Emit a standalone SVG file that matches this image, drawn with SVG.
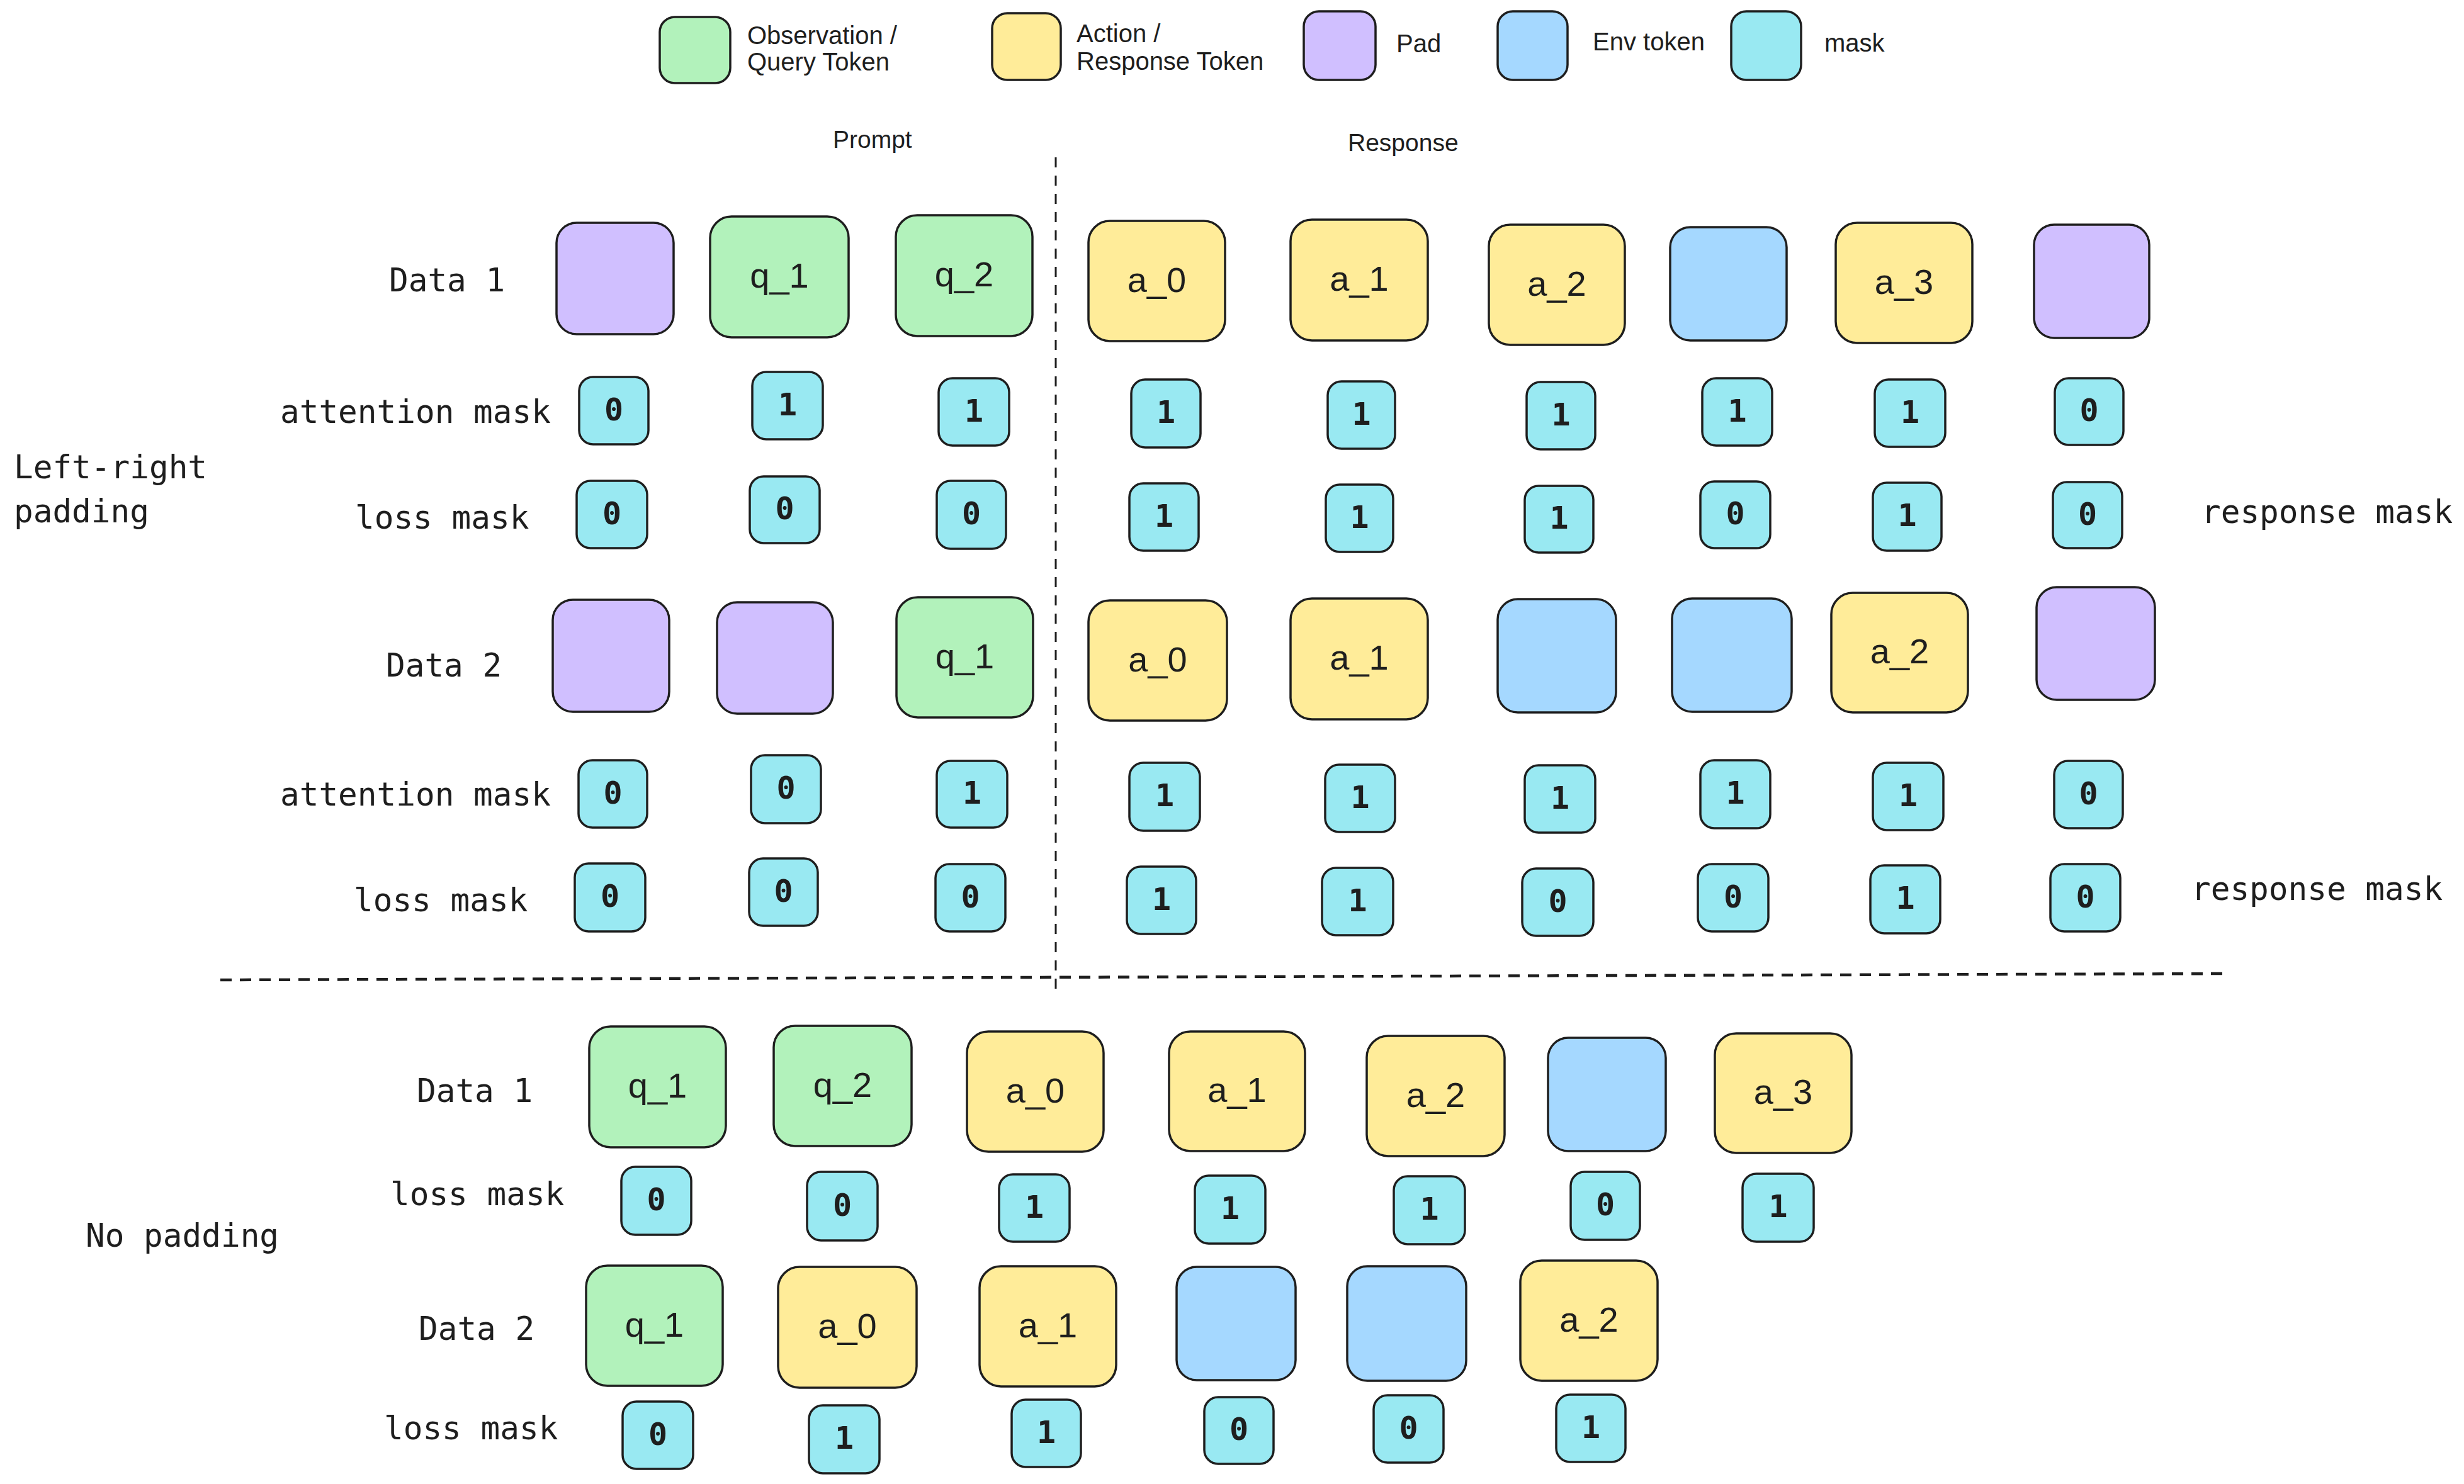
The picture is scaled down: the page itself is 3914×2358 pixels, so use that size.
<svg xmlns="http://www.w3.org/2000/svg" width="3914" height="2358" viewBox="0 0 3914 2358">
<style>
.t{stroke:#1e1e1e;stroke-width:3.5}
.m{stroke:#1e1e1e;stroke-width:3.5}
.g{fill:#b2f2bb}.y{fill:#ffec99}.p{fill:#d0bfff}.b{fill:#a5d8ff}.c{fill:#99e9f2}
.tt{font-family:"Liberation Sans",Arial,sans-serif;font-size:56px;fill:#1e1e1e;text-anchor:middle}
.md{font-family:"DejaVu Sans Mono","Liberation Mono",monospace;font-size:50px;font-weight:bold;fill:#1e1e1e;text-anchor:middle}
.lb{font-family:"DejaVu Sans Mono","Liberation Mono",monospace;font-size:51px;fill:#1e1e1e}
.lg{font-family:"Liberation Sans",Arial,sans-serif;font-size:40px;fill:#1e1e1e}
.hd{font-family:"Liberation Sans",Arial,sans-serif;font-size:39px;fill:#1e1e1e}
.sep{fill:none;stroke:#1e1e1e}
</style>
<rect width="3914" height="2358" fill="#ffffff"/>

<g id="legend">
<g id="legend-obs"><rect class="t g" x="1048" y="27" width="112" height="105" rx="24"/><text class="lg" x="1187" y="70">Observation /</text><text class="lg" x="1187" y="112">Query Token</text></g>
<g id="legend-act"><rect class="t y" x="1576" y="21" width="109" height="106" rx="24"/><text class="lg" x="1710" y="67">Action /</text><text class="lg" x="1710" y="111">Response Token</text></g>
<g id="legend-pad"><rect class="t p" x="2071" y="18" width="114" height="109" rx="24"/><text class="lg" x="2218" y="83">Pad</text></g>
<g id="legend-env"><rect class="t b" x="2379" y="18" width="111" height="109" rx="24"/><text class="lg" x="2530" y="80">Env token</text></g>
<g id="legend-mask"><rect class="t c" x="2750" y="18" width="111" height="109" rx="24"/><text class="lg" x="2898" y="82">mask</text></g>
</g>

<g id="headers">
<text class="hd" x="1323" y="235">Prompt</text>
<text class="hd" x="2141" y="240">Response</text>
</g>

<g id="connectors">
<line class="sep" x1="1677" y1="250" x2="1677" y2="1575" stroke-width="3" stroke-dasharray="16 13"/>
<line class="sep" x1="350" y1="1557" x2="3540" y2="1547" stroke-width="4.5" stroke-dasharray="18 13"/>
</g>

<g id="labels">
<text class="lb" x="618" y="463">Data 1</text>
<text class="lb" x="445" y="672">attention mask</text>
<text class="lb" x="564" y="840">loss mask</text>
<text class="lb" x="22" y="760">Left-right</text>
<text class="lb" x="22" y="830">padding</text>
<text class="lb" x="3497" y="831">response mask</text>
<text class="lb" x="613" y="1075">Data 2</text>
<text class="lb" x="445" y="1280">attention mask</text>
<text class="lb" x="562" y="1448">loss mask</text>
<text class="lb" x="3481" y="1430">response mask</text>
<text class="lb" x="136" y="1981">No padding</text>
<text class="lb" x="662" y="1751">Data 1</text>
<text class="lb" x="620" y="1915">loss mask</text>
<text class="lb" x="665" y="2129">Data 2</text>
<text class="lb" x="610" y="2287">loss mask</text>
</g>

<g id="lr-data1">
<g id="lr1-pad0"><rect class="t p" x="884" y="354" width="186" height="177" rx="32"/></g>
<g id="lr1-q1"><rect class="t g" x="1128" y="344" width="220" height="192" rx="34"/><text class="tt" x="1238" y="457">q_1</text></g>
<g id="lr1-q2"><rect class="t g" x="1423" y="342" width="217" height="192" rx="34"/><text class="tt" x="1531.5" y="455">q_2</text></g>
<g id="lr1-a0"><rect class="t y" x="1729" y="351" width="217" height="191" rx="34"/><text class="tt" x="1837.5" y="463.5">a_0</text></g>
<g id="lr1-a1"><rect class="t y" x="2050" y="349" width="218" height="192" rx="34"/><text class="tt" x="2159" y="462">a_1</text></g>
<g id="lr1-a2"><rect class="t y" x="2365" y="357" width="216" height="191" rx="34"/><text class="tt" x="2473" y="469.5">a_2</text></g>
<g id="lr1-env"><rect class="t b" x="2653" y="361" width="185" height="180" rx="32"/></g>
<g id="lr1-a3"><rect class="t y" x="2916" y="354" width="217" height="191" rx="34"/><text class="tt" x="3024.5" y="466.5">a_3</text></g>
<g id="lr1-pad1"><rect class="t p" x="3231" y="357" width="183" height="180" rx="32"/></g>
</g>

<g id="lr-data1-attn">
<g id="lr1-at0"><rect class="m c" x="920" y="599" width="110" height="107" rx="22"/><text class="md" x="975" y="667.5">0</text></g>
<g id="lr1-at1"><rect class="m c" x="1195" y="591" width="112" height="107" rx="22"/><text class="md" x="1251" y="659.5">1</text></g>
<g id="lr1-at2"><rect class="m c" x="1491" y="601" width="112" height="107" rx="22"/><text class="md" x="1547" y="669.5">1</text></g>
<g id="lr1-at3"><rect class="m c" x="1797" y="603" width="110" height="108" rx="22"/><text class="md" x="1852" y="672">1</text></g>
<g id="lr1-at4"><rect class="m c" x="2109" y="606" width="107" height="107" rx="22"/><text class="md" x="2162.5" y="674.5">1</text></g>
<g id="lr1-at5"><rect class="m c" x="2425" y="607" width="109" height="107" rx="22"/><text class="md" x="2479.5" y="675.5">1</text></g>
<g id="lr1-at6"><rect class="m c" x="2704" y="601" width="111" height="107" rx="22"/><text class="md" x="2759.5" y="669.5">1</text></g>
<g id="lr1-at7"><rect class="m c" x="2978" y="603" width="112" height="107" rx="22"/><text class="md" x="3034" y="671.5">1</text></g>
<g id="lr1-at8"><rect class="m c" x="3264" y="601" width="109" height="106" rx="22"/><text class="md" x="3318.5" y="669">0</text></g>
</g>

<g id="lr-data1-loss">
<g id="lr1-ls0"><rect class="m c" x="916" y="764" width="112" height="107" rx="22"/><text class="md" x="972" y="832.5">0</text></g>
<g id="lr1-ls1"><rect class="m c" x="1191" y="757" width="111" height="106" rx="22"/><text class="md" x="1246.5" y="825">0</text></g>
<g id="lr1-ls2"><rect class="m c" x="1488" y="764" width="110" height="108" rx="22"/><text class="md" x="1543" y="833">0</text></g>
<g id="lr1-ls3"><rect class="m c" x="1794" y="768" width="110" height="107" rx="22"/><text class="md" x="1849" y="836.5">1</text></g>
<g id="lr1-ls4"><rect class="m c" x="2106" y="770" width="107" height="107" rx="22"/><text class="md" x="2159.5" y="838.5">1</text></g>
<g id="lr1-ls5"><rect class="m c" x="2422" y="772" width="109" height="106" rx="22"/><text class="md" x="2476.5" y="840">1</text></g>
<g id="lr1-ls6"><rect class="m c" x="2701" y="765" width="111" height="106" rx="22"/><text class="md" x="2756.5" y="833">0</text></g>
<g id="lr1-ls7"><rect class="m c" x="2975" y="767" width="109" height="108" rx="22"/><text class="md" x="3029.5" y="836">1</text></g>
<g id="lr1-ls8"><rect class="m c" x="3261" y="766" width="110" height="105" rx="22"/><text class="md" x="3316" y="833.5">0</text></g>
</g>

<g id="lr-data2">
<g id="lr2-pad0"><rect class="t p" x="878" y="953" width="185" height="178" rx="32"/></g>
<g id="lr2-pad1"><rect class="t p" x="1139" y="957" width="184" height="177" rx="32"/></g>
<g id="lr2-q1"><rect class="t g" x="1424" y="949" width="217" height="191" rx="34"/><text class="tt" x="1532.5" y="1061.5">q_1</text></g>
<g id="lr2-a0"><rect class="t y" x="1729" y="954" width="220" height="191" rx="34"/><text class="tt" x="1839" y="1066.5">a_0</text></g>
<g id="lr2-a1"><rect class="t y" x="2050" y="951" width="218" height="192" rx="34"/><text class="tt" x="2159" y="1064">a_1</text></g>
<g id="lr2-env0"><rect class="t b" x="2379" y="952" width="188" height="180" rx="32"/></g>
<g id="lr2-env1"><rect class="t b" x="2656" y="951" width="190" height="180" rx="32"/></g>
<g id="lr2-a2"><rect class="t y" x="2909" y="942" width="217" height="190" rx="34"/><text class="tt" x="3017.5" y="1054">a_2</text></g>
<g id="lr2-pad2"><rect class="t p" x="3235" y="933" width="188" height="179" rx="32"/></g>
</g>

<g id="lr-data2-attn">
<g id="lr2-at0"><rect class="m c" x="919" y="1208" width="109" height="107" rx="22"/><text class="md" x="973.5" y="1276.5">0</text></g>
<g id="lr2-at1"><rect class="m c" x="1193" y="1200" width="111" height="108" rx="22"/><text class="md" x="1248.5" y="1269">0</text></g>
<g id="lr2-at2"><rect class="m c" x="1488" y="1209" width="112" height="106" rx="22"/><text class="md" x="1544" y="1277">1</text></g>
<g id="lr2-at3"><rect class="m c" x="1794" y="1212" width="112" height="108" rx="22"/><text class="md" x="1850" y="1281">1</text></g>
<g id="lr2-at4"><rect class="m c" x="2105" y="1215" width="111" height="107" rx="22"/><text class="md" x="2160.5" y="1283.5">1</text></g>
<g id="lr2-at5"><rect class="m c" x="2422" y="1216" width="112" height="107" rx="22"/><text class="md" x="2478" y="1284.5">1</text></g>
<g id="lr2-at6"><rect class="m c" x="2701" y="1208" width="111" height="108" rx="22"/><text class="md" x="2756.5" y="1277">1</text></g>
<g id="lr2-at7"><rect class="m c" x="2975" y="1212" width="112" height="107" rx="22"/><text class="md" x="3031" y="1280.5">1</text></g>
<g id="lr2-at8"><rect class="m c" x="3263" y="1209" width="109" height="107" rx="22"/><text class="md" x="3317.5" y="1277.5">0</text></g>
</g>

<g id="lr-data2-loss">
<g id="lr2-ls0"><rect class="m c" x="913" y="1372" width="112" height="108" rx="22"/><text class="md" x="969" y="1441">0</text></g>
<g id="lr2-ls1"><rect class="m c" x="1190" y="1364" width="109" height="107" rx="22"/><text class="md" x="1244.5" y="1432.5">0</text></g>
<g id="lr2-ls2"><rect class="m c" x="1486" y="1373" width="111" height="107" rx="22"/><text class="md" x="1541.5" y="1441.5">0</text></g>
<g id="lr2-ls3"><rect class="m c" x="1790" y="1377" width="110" height="107" rx="22"/><text class="md" x="1845" y="1445.5">1</text></g>
<g id="lr2-ls4"><rect class="m c" x="2100" y="1379" width="113" height="107" rx="22"/><text class="md" x="2156.5" y="1447.5">1</text></g>
<g id="lr2-ls5"><rect class="m c" x="2418" y="1380" width="113" height="107" rx="22"/><text class="md" x="2474.5" y="1448.5">0</text></g>
<g id="lr2-ls6"><rect class="m c" x="2697" y="1373" width="112" height="107" rx="22"/><text class="md" x="2753" y="1441.5">0</text></g>
<g id="lr2-ls7"><rect class="m c" x="2971" y="1375" width="111" height="108" rx="22"/><text class="md" x="3026.5" y="1444">1</text></g>
<g id="lr2-ls8"><rect class="m c" x="3257" y="1373" width="111" height="107" rx="22"/><text class="md" x="3312.5" y="1441.5">0</text></g>
</g>

<g id="np-data1">
<g id="np1-q1"><rect class="t g" x="936" y="1631" width="217" height="192" rx="34"/><text class="tt" x="1044.5" y="1744">q_1</text></g>
<g id="np1-q2"><rect class="t g" x="1229" y="1630" width="219" height="191" rx="34"/><text class="tt" x="1338.5" y="1742.5">q_2</text></g>
<g id="np1-a0"><rect class="t y" x="1536" y="1639" width="217" height="191" rx="34"/><text class="tt" x="1644.5" y="1751.5">a_0</text></g>
<g id="np1-a1"><rect class="t y" x="1857" y="1639" width="216" height="190" rx="34"/><text class="tt" x="1965" y="1751">a_1</text></g>
<g id="np1-a2"><rect class="t y" x="2171" y="1646" width="219" height="191" rx="34"/><text class="tt" x="2280.5" y="1758.5">a_2</text></g>
<g id="np1-env"><rect class="t b" x="2459" y="1649" width="187" height="180" rx="32"/></g>
<g id="np1-a3"><rect class="t y" x="2724" y="1642" width="217" height="190" rx="34"/><text class="tt" x="2832.5" y="1754">a_3</text></g>
</g>

<g id="np-data1-loss">
<g id="np1-ls0"><rect class="m c" x="987" y="1854" width="111" height="108" rx="22"/><text class="md" x="1042.5" y="1923">0</text></g>
<g id="np1-ls1"><rect class="m c" x="1282" y="1862" width="112" height="109" rx="22"/><text class="md" x="1338" y="1931.5">0</text></g>
<g id="np1-ls2"><rect class="m c" x="1587" y="1866" width="112" height="107" rx="22"/><text class="md" x="1643" y="1934.5">1</text></g>
<g id="np1-ls3"><rect class="m c" x="1898" y="1868" width="112" height="108" rx="22"/><text class="md" x="1954" y="1937">1</text></g>
<g id="np1-ls4"><rect class="m c" x="2214" y="1869" width="113" height="108" rx="22"/><text class="md" x="2270.5" y="1938">1</text></g>
<g id="np1-ls5"><rect class="m c" x="2495" y="1862" width="110" height="108" rx="22"/><text class="md" x="2550" y="1931">0</text></g>
<g id="np1-ls6"><rect class="m c" x="2768" y="1865" width="113" height="108" rx="22"/><text class="md" x="2824.5" y="1934">1</text></g>
</g>

<g id="np-data2">
<g id="np2-q1"><rect class="t g" x="931" y="2011" width="217" height="191" rx="34"/><text class="tt" x="1039.5" y="2123.5">q_1</text></g>
<g id="np2-a0"><rect class="t y" x="1236" y="2013" width="220" height="192" rx="34"/><text class="tt" x="1346" y="2126">a_0</text></g>
<g id="np2-a1"><rect class="t y" x="1556" y="2012" width="217" height="191" rx="34"/><text class="tt" x="1664.5" y="2124.5">a_1</text></g>
<g id="np2-env0"><rect class="t b" x="1869" y="2013" width="189" height="180" rx="32"/></g>
<g id="np2-env1"><rect class="t b" x="2140" y="2012" width="189" height="182" rx="32"/></g>
<g id="np2-a2"><rect class="t y" x="2415" y="2003" width="218" height="191" rx="34"/><text class="tt" x="2524" y="2115.5">a_2</text></g>
</g>

<g id="np-data2-loss">
<g id="np2-ls0"><rect class="m c" x="989" y="2227" width="112" height="107" rx="22"/><text class="md" x="1045" y="2295.5">0</text></g>
<g id="np2-ls1"><rect class="m c" x="1285" y="2233" width="112" height="108" rx="22"/><text class="md" x="1341" y="2302">1</text></g>
<g id="np2-ls2"><rect class="m c" x="1607" y="2224" width="110" height="107" rx="22"/><text class="md" x="1662" y="2292.5">1</text></g>
<g id="np2-ls3"><rect class="m c" x="1913" y="2220" width="110" height="106" rx="22"/><text class="md" x="1968" y="2288">0</text></g>
<g id="np2-ls4"><rect class="m c" x="2182" y="2217" width="111" height="107" rx="22"/><text class="md" x="2237.5" y="2285.5">0</text></g>
<g id="np2-ls5"><rect class="m c" x="2472" y="2216" width="110" height="107" rx="22"/><text class="md" x="2527" y="2284.5">1</text></g>
</g>
</svg>
